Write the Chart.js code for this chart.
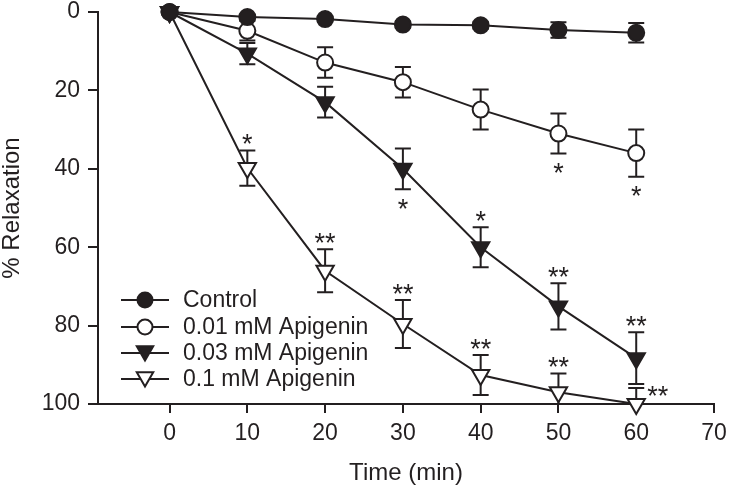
<!DOCTYPE html>
<html>
<head>
<meta charset="utf-8">
<title>% Relaxation vs time</title>
<script src="https://cdn.jsdelivr.net/npm/chart.js@4"></script>
<style>
  html, body { margin: 0; padding: 0; background: #fff; }
  #wrap { width: 729px; height: 489px; position: relative; }
</style>
</head>
<body>
<div id="wrap"><canvas id="myChart"></canvas></div>
<script>
// ---- data ----
var times = [0, 10, 20, 30, 40, 50, 60];

var control    = [0, 1.3, 1.8, 3.2, 3.4, 4.6, 5.3];
var controlErr = [0, 0.6, 0.6, 0.8, 0.9, 2.0, 2.5];

var apig001    = [0, 4.8, 12.9, 17.9, 24.9, 31.0, 36.0];
var apig001Err = [0, 2.5, 3.9, 3.9, 5.1, 5.1, 6.0];
var apig001Sig = ['', '', '', '', '', '*', '*'];

var apig003    = [0, 10.6, 23.0, 40.0, 60.0, 75.1, 88.3];
var apig003Err = [0, 2.7, 3.9, 5.2, 5.1, 5.9, 6.6];
var apig003Sig = ['', '', '', '*', '*', '**', '**'];

var apig01     = [0, 39.8, 66.0, 79.6, 92.6, 97.0, 100];
var apig01Err  = [0, 4.5, 5.5, 6.1, 5.1, 4.8, 4.1];
var apig01Sig  = ['', '*', '**', '**', '**', '**', '**'];

var seriesNames = ['Control', '0.01 mM Apigenin', '0.03 mM Apigenin', '0.1 mM Apigenin'];
var xTickValues = [0, 10, 20, 30, 40, 50, 60, 70];
var yTickValues = [0, 20, 40, 60, 80, 100];

// where the stars sit relative to the error bar
var sigPlace = [
    [],
    ['', '', '', '', '', 'below', 'below'],
    ['', '', '', 'below', 'above', 'above', 'above'],
    ['', 'above', 'above', 'above', 'above', 'above', 'right']
];

var INK = '#231f20';
var FONT = '"Liberation Sans", Arial, Helvetica, sans-serif';

function pts(vals) {
    return times.map(function(t, i) { return { x: t, y: vals[i] }; });
}

var styles = [
    { fill: INK, shape: 'circle' },
    { fill: '#fff', shape: 'circle' },
    { fill: INK, shape: 'triangle' },
    { fill: '#fff', shape: 'triangle' }
];

function makeSet(i, vals, err, sig) {
    var s = styles[i];
    return {
        label: seriesNames[i],
        data: pts(vals),
        err: err,
        sig: sig,
        borderColor: INK,
        borderWidth: 2,
        pointStyle: s.shape,
        pointRotation: s.shape === 'triangle' ? 180 : 0,
        pointRadius: s.shape === 'triangle' ? 10 : 8,
        pointBorderWidth: 2,
        pointBorderColor: INK,
        pointBackgroundColor: s.fill,
        pointHoverRadius: s.shape === 'triangle' ? 10 : 8,
        tension: 0,
        fill: false,
        clip: false
    };
}

// error bars drawn under the markers
var errorBars = {
    id: 'errorBars',
    beforeDatasetsDraw: function(chart) {
        var ctx = chart.ctx, ca = chart.chartArea;
        var xs = chart.scales.x, ys = chart.scales.y;
        ctx.save();
        ctx.beginPath();
        ctx.rect(ca.left, ca.top - 20, ca.right - ca.left, ca.bottom - ca.top + 20);
        ctx.clip();
        ctx.strokeStyle = INK;
        ctx.lineWidth = 2;
        chart.data.datasets.forEach(function(ds) {
            ds.data.forEach(function(p, i) {
                var e = ds.err[i];
                if (!e) return;
                var px = xs.getPixelForValue(p.x);
                var y1 = ys.getPixelForValue(p.y - e);
                var y2 = ys.getPixelForValue(p.y + e);
                ctx.beginPath();
                ctx.moveTo(px, y1); ctx.lineTo(px, y2);
                ctx.moveTo(px - 8, y1); ctx.lineTo(px + 8, y1);
                ctx.moveTo(px - 8, y2); ctx.lineTo(px + 8, y2);
                ctx.stroke();
            });
        });
        ctx.restore();
    }
};

// significance stars + legend inside the plot
var extras = {
    id: 'extras',
    afterDatasetsDraw: function(chart) {
        var ctx = chart.ctx;
        var xs = chart.scales.x, ys = chart.scales.y;
        ctx.save();
        ctx.fillStyle = INK;
        ctx.font = '27px ' + FONT;
        ctx.textBaseline = 'alphabetic';
        chart.data.datasets.forEach(function(ds, di) {
            if (!ds.sig) return;
            ds.data.forEach(function(p, i) {
                var s = ds.sig[i];
                if (!s) return;
                var place = sigPlace[di][i];
                var px = xs.getPixelForValue(p.x);
                var cy, cx = px;
                ctx.textAlign = 'center';
                if (place === 'above') {
                    cy = ys.getPixelForValue(p.y - ds.err[i]) - 13;
                } else if (place === 'below') {
                    cy = ys.getPixelForValue(p.y + ds.err[i]) + 13;
                } else {
                    cy = ys.getPixelForValue(p.y - ds.err[i]) + 1;
                    cx = px + 11;
                    ctx.textAlign = 'left';
                }
                // asterisk glyph sits ~0.58em above the baseline
                ctx.fillText(s, cx, cy + 15.7);
            });
        });

        // legend
        var lx = 121, rowY = [300, 327, 353, 379];
        ctx.font = '23px ' + FONT;
        ctx.textAlign = 'left';
        ctx.textBaseline = 'middle';
        seriesNames.forEach(function(name, i) {
            var y = rowY[i], st = styles[i];
            ctx.strokeStyle = INK;
            ctx.lineWidth = 2;
            ctx.beginPath();
            ctx.moveTo(lx, y); ctx.lineTo(lx + 48, y);
            ctx.stroke();
            ctx.beginPath();
            if (st.shape === 'circle') {
                ctx.arc(lx + 24, y, 7.5, 0, Math.PI * 2);
            } else {
                var r = 9.5, cy = y - 2;
                ctx.moveTo(lx + 24, cy + r);
                ctx.lineTo(lx + 24 - r * 0.866, cy - r / 2);
                ctx.lineTo(lx + 24 + r * 0.866, cy - r / 2);
                ctx.closePath();
            }
            ctx.fillStyle = st.fill;
            ctx.fill();
            ctx.stroke();
            ctx.fillStyle = INK;
            ctx.fillText(name, 183, y + 1);
        });
        ctx.restore();
    }
};

var data = {
    datasets: [
        makeSet(0, control, controlErr, null),
        makeSet(1, apig001, apig001Err, apig001Sig),
        makeSet(2, apig003, apig003Err, apig003Sig),
        makeSet(3, apig01, apig01Err, apig01Sig)
    ]
};

var ctx = document.getElementById('myChart');
var myChart = new Chart(ctx, {
    type: 'line',
    data: data,
    plugins: [errorBars, extras],
    options: {
        responsive: true,
        maintainAspectRatio: false,
        animation: false,
        layout: { padding: { top: 10, right: 15, left: 0, bottom: 0 } },
        plugins: {
            legend: { display: false },
            tooltip: { enabled: false }
        },
        scales: {
            x: {
                type: 'linear',
                min: -9.2,
                max: 70,
                afterBuildTicks: function(scale) {
                    scale.ticks = xTickValues.map(function(v) { return { value: v }; });
                },
                afterFit: function(scale) {
                    scale.height = 85;
                    scale.paddingLeft = 0;
                    scale.paddingRight = 0;
                },
                grid: { drawOnChartArea: false, drawTicks: true, tickLength: 9, color: INK, lineWidth: 2 },
                border: { display: true, color: INK, width: 2 },
                ticks: { color: INK, font: { family: FONT, size: 23 }, padding: 7, maxRotation: 0, autoSkip: false },
                title: {
                    display: true, text: 'Time (min)', color: INK,
                    font: { family: FONT, size: 24, lineHeight: 1 },
                    padding: { top: 0, bottom: 4 }
                }
            },
            y: {
                type: 'linear',
                reverse: true,
                min: 0,
                max: 100,
                afterBuildTicks: function(scale) {
                    scale.ticks = yTickValues.map(function(v) { return { value: v }; });
                },
                afterFit: function(scale) {
                    scale.width = 98;
                    scale.paddingTop = 0;
                    scale.paddingBottom = 0;
                },
                grid: { drawOnChartArea: false, drawTicks: true, tickLength: 10, color: INK, lineWidth: 2 },
                border: { display: true, color: INK, width: 2 },
                ticks: { color: INK, font: { family: FONT, size: 23 }, padding: 8 },
                title: {
                    display: true, text: '% Relaxation', color: INK,
                    font: { family: FONT, size: 24, lineHeight: 1 },
                    padding: { top: 0, bottom: 0 }
                }
            }
        }
    }
});
</script>
</body>
</html>
